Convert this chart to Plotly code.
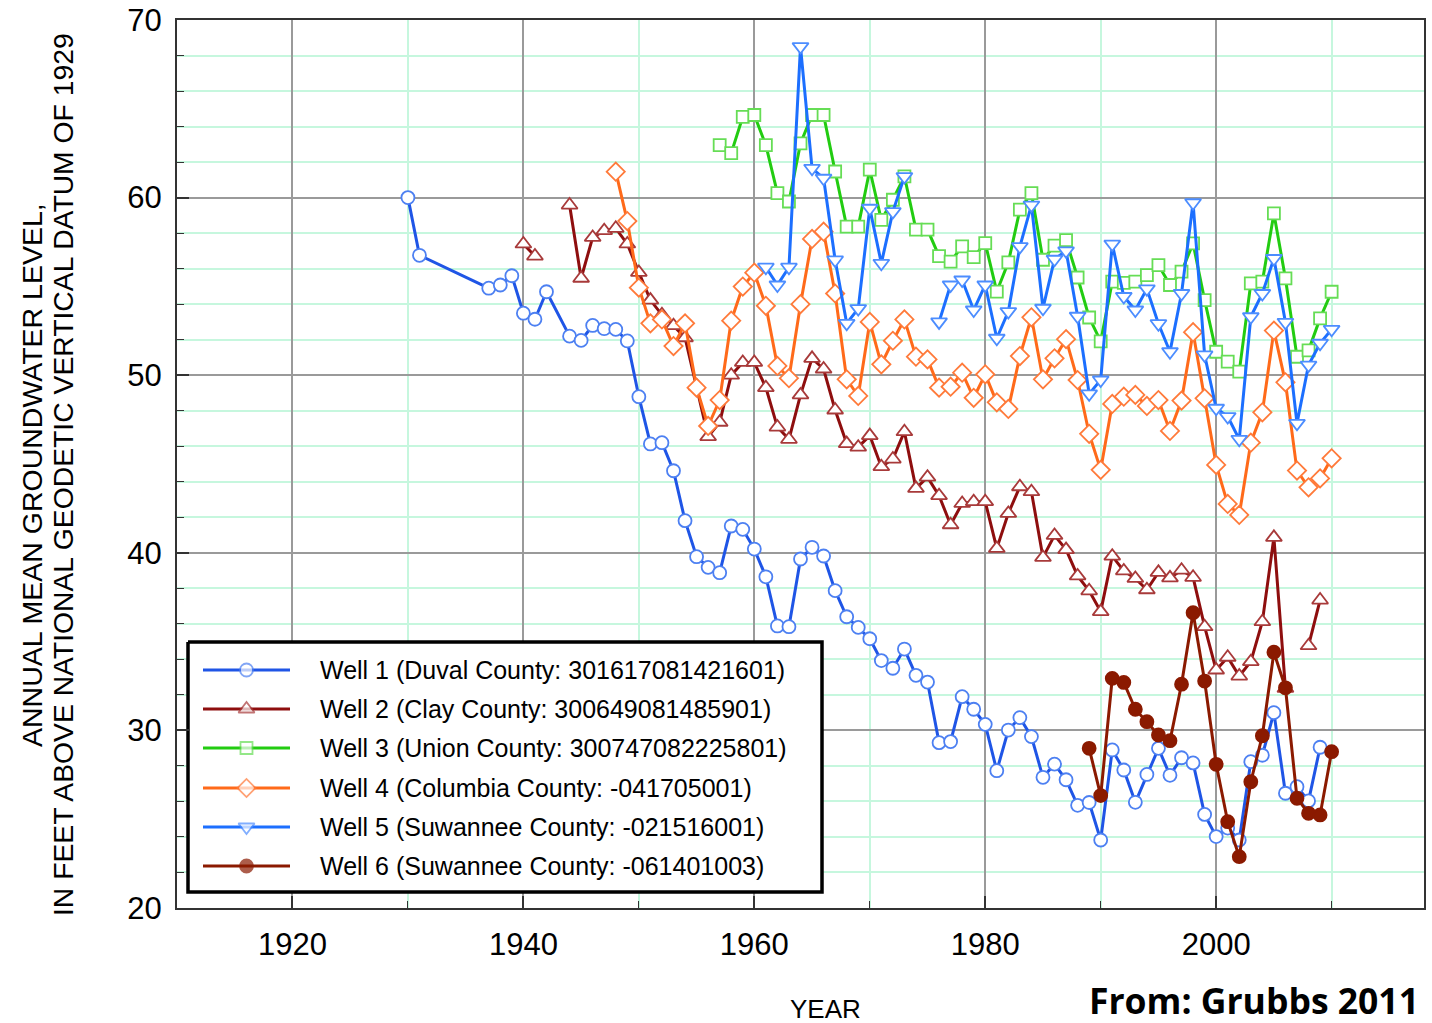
import plotly.graph_objects as go

# ---------------- DATA ----------------
well1_years = [1930, 1931, 1937, 1938, 1939, 1940, 1941, 1942, 1944, 1945, 1946, 1947, 1948, 1949,
               1950, 1951, 1952, 1953, 1954, 1955, 1956, 1957, 1958, 1959, 1960, 1961, 1962, 1963,
               1964, 1965, 1966, 1967, 1968, 1969, 1970, 1971, 1972, 1973, 1974, 1975, 1976, 1977,
               1978, 1979, 1980, 1981, 1982, 1983, 1984, 1985, 1986, 1987, 1988, 1989, 1990, 1991,
               1992, 1993, 1994, 1995, 1996, 1997, 1998, 1999, 2000, 2001, 2002, 2003, 2004, 2005,
               2006, 2007, 2008, 2009]
well1_levels = [60.0, 56.75, 54.9, 55.08, 55.6, 53.49, 53.15, 54.7, 52.2, 51.96, 52.8, 52.62, 52.58, 51.93,
                48.79, 46.13, 46.2, 44.62, 41.81, 39.78, 39.18, 38.88, 41.51, 41.32, 40.21, 38.65, 35.88, 35.84,
                39.65, 40.31, 39.82, 37.87, 36.4, 35.8, 35.16, 33.93, 33.5, 34.58, 33.1, 32.72, 29.31, 29.37,
                31.9, 31.19, 30.34, 27.73, 30.02, 30.72, 29.65, 27.36, 28.1, 27.22, 25.78, 25.94, 23.83, 28.9,
                27.77, 25.95, 27.52, 28.99, 27.47, 28.46, 28.17, 25.27, 24.02, 24.5, 23.83, 28.24, 28.6, 31.0,
                26.46, 26.83, 26.03, 29.05]

well2_years = [1940, 1941, 1942, 1943, 1944, 1945, 1946, 1947, 1948, 1949, 1950, 1951, 1952, 1953, 1954,
               1955, 1956, 1957, 1958, 1959, 1960, 1961, 1962, 1963, 1964, 1965, 1966, 1967, 1968, 1969,
               1970, 1971, 1972, 1973, 1974, 1975, 1976, 1977, 1978, 1979, 1980, 1981, 1982, 1983, 1984,
               1985, 1986, 1987, 1988, 1989, 1990, 1991, 1992, 1993, 1994, 1995, 1996, 1997, 1998, 1999,
               2000, 2001, 2002, 2003, 2004, 2005, 2006, 2007, 2008, 2009]
well2_levels = [57.39, 56.71, None, None, 59.58, 55.46, 57.76, 58.14, 58.27, 57.39, 55.79, 54.23, 53.4, 52.79, 52.11,
                49.4, 46.54, 47.35, 50.0, 50.72, 50.72, 49.3, 47.08, 46.39, 48.89, 50.95, 50.35, 48.04, 46.15, 45.95,
                46.6, 44.85, 45.28, 46.82, 43.63, 44.26, 43.22, 41.58, 42.78, 42.88, 42.88, 40.25, 42.22, 43.72, 43.44,
                39.74, 40.98, 40.18, 38.7, 37.86, 36.69, 39.81, 38.98, 38.56, 37.92, 38.9, 38.59, 39.02, 38.62, 35.84,
                33.4, 34.12, 33.06, 33.87, 36.12, 40.87, 32.37, None, 34.77, 37.34]

well3_years = [1957, 1958, 1959, 1960, 1961, 1962, 1963, 1964, 1965, 1966, 1967, 1968, 1969, 1970, 1971,
               1972, 1973, 1974, 1975, 1976, 1977, 1978, 1979, 1980, 1981, 1982, 1983, 1984, 1985, 1986,
               1987, 1988, 1989, 1990, 1991, 1992, 1993, 1994, 1995, 1996, 1997, 1998, 1999, 2000, 2001,
               2002, 2003, 2004, 2005, 2006, 2007, 2008, 2009, 2010]
well3_levels = [62.95, 62.5, 64.55, 64.65, 62.95, 60.25, 59.78, 63.05, 64.65, 64.65, 61.47, 58.37, 58.37, 61.57, 58.75,
                59.88, 61.2, 58.2, 58.2, 56.7, 56.4, 57.25, 56.65, 57.44, 54.71, 56.35, 59.32, 60.25, 56.5, 57.3,
                57.6, 55.5, 53.25, 51.9, 55.27, 55.2, 55.27, 55.64, 56.2, 55.08, 55.83, 57.42, 54.23, 51.32, 50.76,
                50.2, 55.17, 55.27, 59.11, 55.45, 51.04, 51.4, 53.2, 54.7]

well4_years = [1948, 1949, 1950, 1951, 1952, 1953, 1954, 1955, 1956, 1957, 1958, 1959, 1960, 1961, 1962,
               1963, 1964, 1965, 1966, 1967, 1968, 1969, 1970, 1971, 1972, 1973, 1974, 1975, 1976, 1977,
               1978, 1979, 1980, 1981, 1982, 1983, 1984, 1985, 1986, 1987, 1988, 1989, 1990, 1991, 1992,
               1993, 1994, 1995, 1996, 1997, 1998, 1999, 2000, 2001, 2002, 2003, 2004, 2005, 2006, 2007,
               2008, 2009, 2010]
well4_levels = [61.46, 58.68, 54.93, 52.92, 53.14, 51.64, 52.92, 49.3, 47.14, 48.6, 53.07, 54.99, 55.77, 53.91, 50.52,
                49.83, 54.0, 57.67, 58.08, 54.6, 49.77, 48.83, 53.0, 50.61, 51.94, 53.14, 51.04, 50.89, 49.3, 49.35,
                50.14, 48.73, 50.05, 48.47, 48.1, 51.08, 53.26, 49.77, 50.95, 52.03, 49.73, 46.7, 44.67, 48.38, 48.79,
                48.89, 48.27, 48.6, 46.86, 48.57, 52.42, 48.7, 44.95, 42.75, 42.13, 46.2, 47.91, 52.51, 49.6, 44.63,
                43.69, 44.19, 45.32]

well5_years = [1961, 1962, 1963, 1964, 1965, 1966, 1967, 1968, 1969, 1970, 1971, 1972, 1973, 1974, 1975,
               1976, 1977, 1978, 1979, 1980, 1981, 1982, 1983, 1984, 1985, 1986, 1987, 1988, 1989, 1990,
               1991, 1992, 1993, 1994, 1995, 1996, 1997, 1998, 1999, 2000, 2001, 2002, 2003, 2004, 2005,
               2006, 2007, 2008, 2009, 2010]
well5_levels = [56.08, 55.08, 56.08, 68.5, 61.65, 61.09, 56.49, 52.92, 53.75, 59.4, 56.3, 59.21, 61.18, None, None,
                53.0, 55.08, 55.36, 53.67, 55.08, 52.08, 53.58, 57.24, 59.58, 53.77, 56.53, 57.0, 53.32, 48.95, 49.73,
                57.38, 54.43, 53.67, 54.86, 52.9, 51.32, 54.6, 59.71, 51.14, 48.14, 47.67, 46.39, 53.29, 54.6, 56.57,
                52.98, 47.29, 50.57, 51.8, 52.58]

well6_years = [1989, 1990, 1991, 1992, 1993, 1994, 1995, 1996, 1997, 1998, 1999, 2000, 2001, 2002, 2003,
               2004, 2005, 2006, 2007, 2008, 2009, 2010]
well6_levels = [28.99, 26.33, 32.93, 32.7, 31.19, 30.49, 29.74, 29.42, 32.6, 36.63, 32.78, 28.09, 24.86, 22.89, 27.11,
                29.7, 34.4, 32.4, 26.18, 25.33, 25.24, 28.8]

well_names = [
    "Well 1 (Duval County: 301617081421601)",
    "Well 2 (Clay County: 300649081485901)",
    "Well 3 (Union County: 300747082225801)",
    "Well 4 (Columbia County: -041705001)",
    "Well 5 (Suwannee County: -021516001)",
    "Well 6 (Suwannee County: -061401003)",
]

x_tick_labels = ["1920", "1940", "1960", "1980", "2000"]
y_tick_labels = ["20", "30", "40", "50", "60", "70"]

# ---------------- STYLE ----------------
FONT = "Liberation Sans, Arial, Helvetica, sans-serif"
styles = [
    dict(line="#1F55E6", edge="#4D80F2", fill="white", symbol="circle", size=13),
    dict(line="#8E0E0E", edge="#A83A3A", fill="white", symbol="triangle-up", size=14),
    dict(line="#22CC11", edge="#66DD55", fill="white", symbol="square", size=12),
    dict(line="#FF6A1A", edge="#FF7A3A", fill="white", symbol="diamond", size=14),
    dict(line="#1C6FFF", edge="#4C8DFF", fill="white", symbol="triangle-down", size=14),
    dict(line="#8B1A00", edge="#8B1A00", fill="#8B1A00", symbol="circle", size=13),
]
series = [
    (well1_years, well1_levels),
    (well2_years, well2_levels),
    (well3_years, well3_levels),
    (well4_years, well4_levels),
    (well5_years, well5_levels),
    (well6_years, well6_levels),
]

W, H = 1432, 1023
PL, PR, PT, PB = 177, 1424, 20, 908  # plot area in pixels
LW = 3.0

fig = go.Figure()

for (xs, ys), st, name in zip(series, styles, well_names):
    fig.add_trace(go.Scatter(
        x=xs, y=ys, name=name, mode="lines+markers", connectgaps=False,
        line=dict(color=st["line"], width=LW),
        marker=dict(symbol=st["symbol"], size=st["size"], color=st["fill"],
                    line=dict(color=st["edge"], width=1.8)),
        showlegend=False,
    ))

# ---------------- LEGEND (drawn on a pixel-space overlay) ----------------
leg_box = dict(x0=188, x1=822, y0=642, y1=892)
leg_rows = [670, 709, 748, 788, 827, 866]
leg_line = (203, 290)
leg_text_x = 318

fig.add_trace(go.Scatter(
    x=[leg_box["x0"], leg_box["x1"], leg_box["x1"], leg_box["x0"], leg_box["x0"]],
    y=[leg_box["y0"], leg_box["y0"], leg_box["y1"], leg_box["y1"], leg_box["y0"]],
    xaxis="x2", yaxis="y2", mode="lines", fill="toself", fillcolor="white",
    line=dict(color="black", width=3.5), showlegend=False, hoverinfo="skip",
))
for row_y, st in zip(leg_rows, styles):
    xm = (leg_line[0] + leg_line[1]) / 2
    fig.add_trace(go.Scatter(
        x=[leg_line[0], xm, leg_line[1]], y=[row_y, row_y, row_y],
        xaxis="x2", yaxis="y2", mode="lines+markers",
        line=dict(color=st["line"], width=LW),
        marker=dict(symbol=st["symbol"], size=[0, st["size"], 0], color=st["fill"],
                    line=dict(color=st["edge"], width=[0, 1.8, 0])),
        showlegend=False, hoverinfo="skip",
    ))

annotations = []
for row_y, name in zip(leg_rows, well_names):
    annotations.append(dict(
        x=leg_text_x, y=row_y, xref="x2", yref="y2", text=name, showarrow=False,
        xanchor="left", yanchor="middle", font=dict(family=FONT, size=25, color="black"),
    ))

def px_x(px):
    return (px - PL) / (PR - PL)

def px_y(py):
    return (PB - py) / (PB - PT)

annotations += [
    dict(x=px_x(32), y=px_y(475), xref="paper", yref="paper", text="ANNUAL MEAN GROUNDWATER LEVEL,",
         textangle=-90, showarrow=False, xanchor="center", yanchor="middle",
         font=dict(family=FONT, size=28.5, color="black")),
    dict(x=px_x(63), y=px_y(475), xref="paper", yref="paper",
         text="IN FEET ABOVE NATIONAL GEODETIC VERTICAL DATUM OF 1929",
         textangle=-90, showarrow=False, xanchor="center", yanchor="middle",
         font=dict(family=FONT, size=28.3, color="black")),
    dict(x=px_x(825), y=px_y(1009), xref="paper", yref="paper", text="YEAR", showarrow=False,
         xanchor="center", yanchor="middle", font=dict(family=FONT, size=26, color="black")),
    dict(x=px_x(1421), y=px_y(1000), xref="paper", yref="paper", text="<b>From: Grubbs 2011</b>",
         showarrow=False, xanchor="right", yanchor="middle",
         font=dict(family="Open Sans, Lato, sans-serif", size=35.5, color="black")),
]

fig.update_layout(
    width=W, height=H,
    margin=dict(l=PL, r=W - PR, t=PT, b=H - PB, pad=0, autoexpand=False),
    paper_bgcolor="white", plot_bgcolor="white",
    showlegend=False,
    font=dict(family=FONT, color="black"),
    annotations=annotations,
    xaxis=dict(
        range=[1910, 2018], tickmode="array",
        tickvals=[int(t) for t in x_tick_labels], ticktext=x_tick_labels,
        ticks="inside", ticklen=12, tickwidth=1.5, tickcolor="#333",
        showgrid=True, gridcolor="#9a9a9a", gridwidth=1.8,
        minor=dict(dtick=10, tick0=1910, ticks="inside", ticklen=7, tickwidth=1.2,
                   tickcolor="#333", showgrid=True, gridcolor="#c6f7de", gridwidth=1.5),
        showline=True, linecolor="#333", linewidth=2, mirror=True, zeroline=False,
        tickfont=dict(family=FONT, size=31, color="black"), ticklabelstandoff=8,
        automargin=False,
    ),
    yaxis=dict(
        range=[20, 70], tickmode="array",
        tickvals=[int(t) for t in y_tick_labels], ticktext=y_tick_labels,
        ticks="inside", ticklen=12, tickwidth=1.5, tickcolor="#333",
        showgrid=True, gridcolor="#9a9a9a", gridwidth=1.8,
        minor=dict(dtick=2, tick0=20, ticks="inside", ticklen=7, tickwidth=1.2,
                   tickcolor="#333", showgrid=True, gridcolor="#c6f7de", gridwidth=1.5),
        showline=True, linecolor="#333", linewidth=2, mirror=True, zeroline=False,
        tickfont=dict(family=FONT, size=31, color="black"), ticklabelstandoff=7,
        automargin=False,
    ),
    xaxis2=dict(range=[PL, PR], overlaying="x", visible=False, fixedrange=True),
    yaxis2=dict(range=[PB, PT], overlaying="y", visible=False, fixedrange=True),
)

fig.write_html(
    "out.html",
    config={"displayModeBar": False},
    post_script="document.body.style.margin='0';document.body.style.overflow='hidden';",
)
